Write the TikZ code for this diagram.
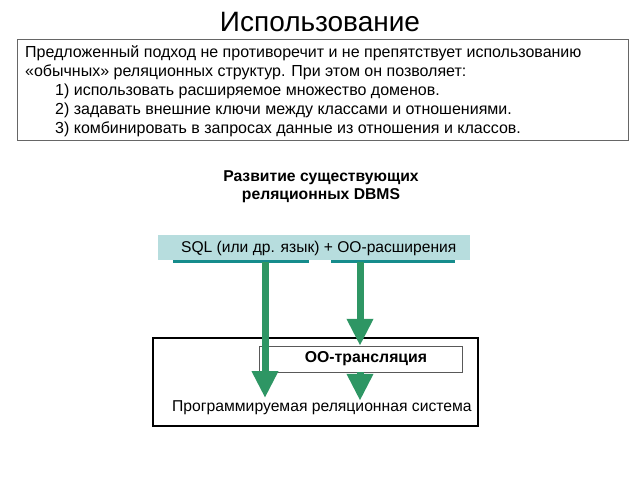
\documentclass[tikz,border=0pt]{standalone}
\usepackage{fontspec}
\setmainfont{Liberation Sans}
\usetikzlibrary{arrows.meta}
\definecolor{bandblue}{RGB}{183,221,222}
\definecolor{lineteal}{RGB}{22,140,140}
\definecolor{arrgreen}{RGB}{46,150,100}

\begin{document}
\begin{tikzpicture}[x=1pt,y=-1pt,
    txt/.style={inner sep=0pt,font=\fontsize{16}{18}\selectfont},
    flow/.style={arrgreen,line width=7pt,-{Triangle[width=25pt,length=27pt]}}]
    \useasboundingbox (0,0) rectangle (640,480); % fixes the page size

    \node[font=\fontsize{28}{32}\selectfont] (title) at (320,22) {Использование};
    \draw [gray!80!black,line width=1pt] (17,39) rectangle (628,140);
    \node[txt,anchor=base west] (l1) at (25,57) {Предложенный подход не противоречит и не препятствует использованию};
    \node[txt,anchor=base west] (l2) at (25,76) {«обычных» реляционных структур. При этом он позволяет:};
    \node[txt,anchor=base west] (l3) at (55,95) {1) использовать расширяемое множество доменов.};
    \node[txt,anchor=base west] (l4) at (55,114) {2) задавать внешние ключи между классами и отношениями.};
    \node[txt,anchor=base west] (l5) at (55,133) {3) комбинировать в запросах данные из отношения и классов.};

    \node[txt,font=\fontsize{15.7}{18}\bfseries,align=center] (head) at (321,187) {Развитие существующих\\реляционных DBMS};

    \node[fill=bandblue,minimum width=312pt,minimum height=25pt,inner sep=0pt] (band) at (314,247.5) {};
    \node[txt,font=\fontsize{15.6}{18}\selectfont,anchor=west] (sql) at (181,248) {SQL (или др. язык) + ОО-расширения};
    \draw [lineteal,line width=3pt] (173,261) -- (309,261);
    \draw [lineteal,line width=3pt] (331,261) -- (455,261);

    \draw [line width=2.5pt] (153,338) rectangle (478,426);
    \node[draw=gray!70!black,fill=white,minimum width=203pt,minimum height=26pt,inner sep=0pt,
          font=\fontsize{15.8}{18}\bfseries] (oo) at (360.5,359) {\hspace*{11pt}ОО-трансляция};
    \node[txt,font=\fontsize{15.7}{18}\selectfont,anchor=west] (sys) at (172,408) {Программируемая реляционная система};

    \coordinate (s1) at (265,262);
    \coordinate (t1) at (265,398);
    \coordinate (s2) at (360,262);
    \draw [flow] (s1) -- (t1);
    \draw [flow] (s2) -- (oo.north -| s2);
    \draw [flow] (oo.south -| s2) -- (sys.north -| s2);
  \end{tikzpicture}
\end{document}
